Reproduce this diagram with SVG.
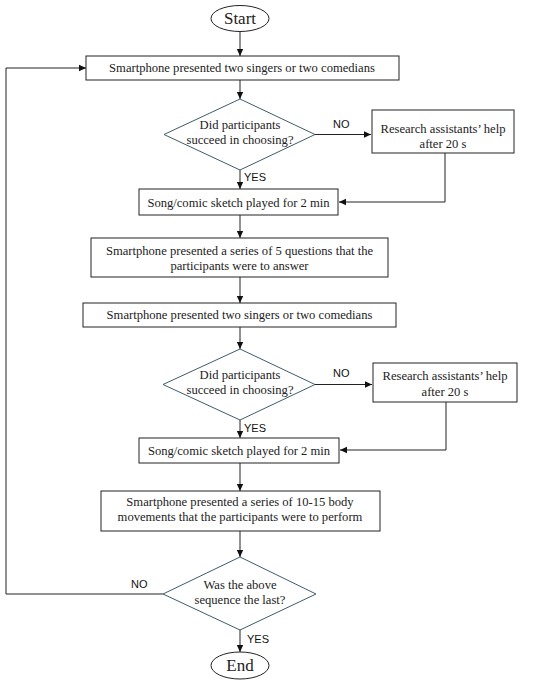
<svg xmlns="http://www.w3.org/2000/svg" width="550" height="685" viewBox="0 0 550 685">
<defs>
<marker id="ah" markerWidth="8" markerHeight="8" refX="7" refY="4" orient="auto" markerUnits="userSpaceOnUse">
<path d="M0,0.8 L7,4 L0,7.2 Z" fill="#111"/>
</marker>
<style>
.box{fill:#fff;stroke:#222;stroke-width:1}
.dia{fill:#fff;stroke:#3f5c66;stroke-width:1}
.term{fill:#fff;stroke:#222;stroke-width:1}
.t{font-family:"Liberation Serif","Times New Roman",serif;font-size:12.6px;fill:#222;text-anchor:middle}
.tt{font-family:"Liberation Serif","Times New Roman",serif;font-size:17px;fill:#222;text-anchor:middle}
.lbl{font-family:"Liberation Sans",Arial,sans-serif;font-size:11px;fill:#111}
.c{fill:none;stroke:#222;stroke-width:1}
</style>
</defs>
<rect width="550" height="685" fill="#fff"/>
<g id="connectors">
<line class="c" x1="240" y1="32" x2="240" y2="56" marker-end="url(#ah)"/>
<line class="c" x1="240" y1="80" x2="240" y2="99" marker-end="url(#ah)"/>
<line class="c" x1="315" y1="134.5" x2="371" y2="134.5" marker-end="url(#ah)"/>
<polyline class="c" points="445,153 445,202 339,202" marker-end="url(#ah)"/>
<line class="c" x1="240" y1="170" x2="240" y2="189" marker-end="url(#ah)"/>
<line class="c" x1="240" y1="215" x2="240" y2="238" marker-end="url(#ah)"/>
<line class="c" x1="240" y1="277" x2="240" y2="303" marker-end="url(#ah)"/>
<line class="c" x1="240" y1="327" x2="240" y2="349" marker-end="url(#ah)"/>
<line class="c" x1="315" y1="384.5" x2="372" y2="384.5" marker-end="url(#ah)"/>
<polyline class="c" points="446,402 446,450 340,450" marker-end="url(#ah)"/>
<line class="c" x1="240" y1="420" x2="240" y2="438" marker-end="url(#ah)"/>
<line class="c" x1="240" y1="463" x2="240" y2="491" marker-end="url(#ah)"/>
<line class="c" x1="240" y1="531" x2="240" y2="557" marker-end="url(#ah)"/>
<polyline class="c" points="163,594 6,594 6,68 86,68" marker-end="url(#ah)"/>
<line class="c" x1="240" y1="630" x2="240" y2="652" marker-end="url(#ah)"/>
<text class="lbl" x="333" y="128">NO</text>
<text class="lbl" x="244" y="181">YES</text>
<text class="lbl" x="333" y="377">NO</text>
<text class="lbl" x="244" y="432">YES</text>
<text class="lbl" x="131" y="588">NO</text>
<text class="lbl" x="247" y="643">YES</text>
</g>
<g id="start">
<ellipse class="term" cx="240" cy="18.5" rx="29" ry="13"/>
<text class="tt" x="240" y="24">Start</text>
</g>
<g id="box1">
<rect class="box" x="86" y="56" width="313" height="24"/>
<text class="t" x="242" y="72">Smartphone presented two singers or two comedians</text>
</g>
<g id="dec1">
<polygon class="dia" points="240,99 315,134.5 240,170 164,134.5"/>
<text class="t" x="240" y="129">Did participants</text>
<text class="t" x="240" y="144">succeed in choosing?</text>
</g>
<g id="help1">
<rect class="box" x="372" y="110" width="142" height="43"/>
<text class="t" x="443" y="133">Research assistants’ help</text>
<text class="t" x="443" y="148">after 20 s</text>
</g>
<g id="play1">
<rect class="box" x="139" y="189" width="199" height="26"/>
<text class="t" x="238.5" y="207">Song/comic sketch played for 2 min</text>
</g>
<g id="questions">
<rect class="box" x="91" y="238" width="297" height="39"/>
<text class="t" x="239.5" y="255">Smartphone presented a series of 5 questions that the</text>
<text class="t" x="239.5" y="270">participants were to answer</text>
</g>
<g id="box2">
<rect class="box" x="83" y="303" width="313" height="24"/>
<text class="t" x="239.5" y="319">Smartphone presented two singers or two comedians</text>
</g>
<g id="dec2">
<polygon class="dia" points="240,349 315,384.5 240,420 163,384.5"/>
<text class="t" x="240" y="379">Did participants</text>
<text class="t" x="240" y="394">succeed in choosing?</text>
</g>
<g id="help2">
<rect class="box" x="373" y="363" width="144" height="39"/>
<text class="t" x="445" y="380">Research assistants’ help</text>
<text class="t" x="445" y="396">after 20 s</text>
</g>
<g id="play2">
<rect class="box" x="139" y="438" width="200" height="25"/>
<text class="t" x="239" y="455">Song/comic sketch played for 2 min</text>
</g>
<g id="movements">
<rect class="box" x="101" y="491" width="279" height="40"/>
<text class="t" x="240" y="506">Smartphone presented a series of 10-15 body</text>
<text class="t" x="240" y="521">movements that the participants were to perform</text>
</g>
<g id="dec3">
<polygon class="dia" points="240,557 316,594 240,630 163,594"/>
<text class="t" x="240" y="589">Was the above</text>
<text class="t" x="240" y="604">sequence the last?</text>
</g>
<g id="end">
<ellipse class="term" cx="240" cy="665.5" rx="29" ry="13.5"/>
<text class="tt" x="240" y="671">End</text>
</g>
</svg>
